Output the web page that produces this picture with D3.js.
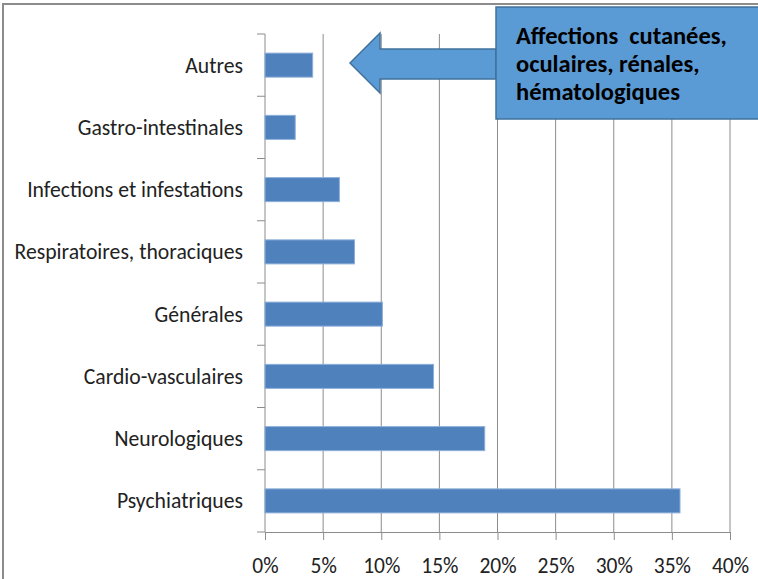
<!DOCTYPE html>
<html>
<head>
<meta charset="utf-8">
<script src="https://cdn.jsdelivr.net/npm/d3@7"></script>
<style>
  body { margin: 0; background: #fff; }
  text { font-family: Carlito, "Liberation Sans Narrow", "DejaVu Sans Condensed", sans-serif; }
</style>
</head>
<body>
<div id="chart"></div>
<script>
// data (share of effects, in %)
var categories = ["Autres", "Gastro-intestinales", "Infections et infestations",
  "Respiratoires, thoraciques", "Générales", "Cardio-vasculaires",
  "Neurologiques", "Psychiatriques"];
var values = [4.1, 2.6, 6.4, 7.7, 10.1, 14.5, 18.9, 35.7];
var tickValues = [0, 5, 10, 15, 20, 25, 30, 35, 40];
var calloutLines = ["Affections  cutanées,", "oculaires, rénales,", "hématologiques"];

var width = 758
var height = 579

var svg = d3.select("#chart")
  .append("svg")
    .attr("width", width)
    .attr("height", height)

// frame of the chart (only top and left are visible)
svg.append("path")
  .attr("d", "M3,579 V4 H758")
  .attr("fill", "none")
  .attr("stroke", "#8c8c8c")
  .attr("stroke-width", 2)

var x = d3.scaleLinear()
  .domain([0, 40])
  .range([265, 730])

var y = d3.scaleBand()
  .domain(categories)
  .range([34, 532])
  .paddingInner(0.614)
  .paddingOuter(0.307)

// vertical gridlines
svg.selectAll(".grid")
  .data(tickValues.slice(1))
  .enter()
  .append("line")
    .attr("x1", function(d) { return x(d) })
    .attr("x2", function(d) { return x(d) })
    .attr("y1", 34)
    .attr("y2", 532)
    .attr("stroke", "#8c8c8c")
    .attr("stroke-width", 1)

// bottom axis
var xAxis = svg.append("g")
  .attr("transform", "translate(0,532)")
  .call(d3.axisBottom(x).tickValues(tickValues).tickFormat(function(d) { return d + "%" }).tickSize(8))
xAxis.select(".domain").attr("stroke", "#8c8c8c")
xAxis.selectAll(".tick line").attr("stroke", "#8c8c8c")
xAxis.selectAll("text")
  .attr("y", 41)
  .attr("dy", 0)
  .attr("font-size", 21.5)
  .attr("fill", "#222")
  .style("font-family", null)

// left axis: ticks on the category boundaries
var step = y.step()
var bounds = d3.range(categories.length + 1).map(function(i) { return 34 + i * step })
svg.append("line")
  .attr("x1", x(0)).attr("x2", x(0))
  .attr("y1", 34).attr("y2", 532)
  .attr("stroke", "#8c8c8c")
svg.selectAll(".ytick")
  .data(bounds)
  .enter()
  .append("line")
    .attr("x1", x(0) - 8)
    .attr("x2", x(0))
    .attr("y1", function(d) { return d })
    .attr("y2", function(d) { return d })
    .attr("stroke", "#8c8c8c")

svg.selectAll(".ylabel")
  .data(categories)
  .enter()
  .append("text")
    .attr("x", 243)
    .attr("y", function(d) { return y(d) + y.bandwidth() / 2 })
    .attr("dy", "0.35em")
    .attr("text-anchor", "end")
    .attr("font-size", 21.7)
    .attr("fill", "#222")
    .text(function(d) { return d })

// bars
svg.selectAll(".bar")
  .data(values)
  .enter()
  .append("rect")
    .attr("x", x(0))
    .attr("y", function(d, i) { return y(categories[i]) })
    .attr("width", function(d) { return x(d) - x(0) })
    .attr("height", y.bandwidth())
    .attr("fill", "#4f81bd")
    .attr("stroke", "#8db0da")
    .attr("stroke-width", 1)

// callout with arrow pointing to "Autres"
var call = svg.append("g")
call.append("path")
  .attr("d", "M350,63 L380,33 L380,49 L496,49 L496,79 L380,79 L380,93 Z")
  .attr("fill", "#5b9bd5")
  .attr("stroke", "#41719c")
  .attr("stroke-width", 1.5)
call.append("rect")
  .attr("x", 496)
  .attr("y", 7)
  .attr("width", 270)
  .attr("height", 112)
  .attr("fill", "#5b9bd5")
  .attr("stroke", "#41719c")
  .attr("stroke-width", 1.5)
call.selectAll("text")
  .data(calloutLines)
  .enter()
  .append("text")
    .attr("x", 516)
    .attr("y", function(d, i) { return 44 + i * 28 })
    .attr("font-size", 24.5)
    .attr("font-weight", "bold")
    .attr("fill", "#000")
    .style("white-space", "pre")
    .text(function(d) { return d })
</script>
</body>
</html>
